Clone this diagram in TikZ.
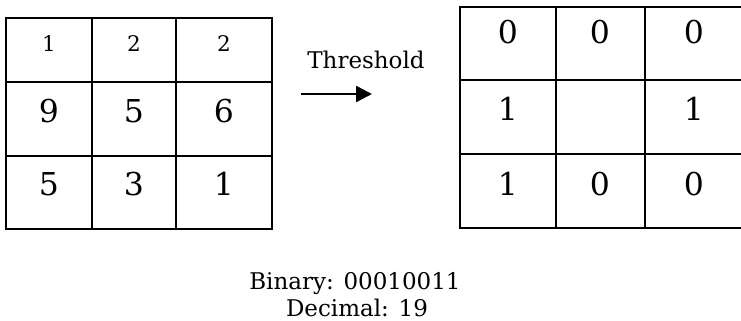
\documentclass[tikz,border=0pt]{standalone}
\usepackage{fontspec}
\setmainfont{DejaVu Serif}
\usetikzlibrary{arrows.meta,positioning}

\begin{document}
\begin{tikzpicture}[x=1pt,y=-1pt,>={Triangle[length=16pt,width=16pt]},
  gridline/.style={line width=2.6pt,line cap=rect},
  bigval/.style={anchor=base,font=\fontsize{31.5}{36}\selectfont},
  smallval/.style={anchor=base,font=\fontsize{21.5}{24}\selectfont},
  lbl/.style={anchor=base,font=\fontsize{23}{27}\selectfont}]
 \useasboundingbox (0,0) rectangle (741,321);
 % input window
 \draw[gridline] (6,18) rectangle (272,229);
 \foreach \x in {92,176} \draw[gridline] (\x,18) -- (\x,229);
 \foreach \y in {82,156} \draw[gridline] (6,\y) -- (272,\y);
 \foreach \r/\y/\st/\a/\b/\c in {1/52/smallval/1/2/2, 2/122/bigval/9/5/6, 3/195/bigval/5/3/1}{
   \node[\st] (in\r1) at (49,\y) {\a};
   \node[\st] (in\r2) at (134,\y) {\b};
   \node[\st] (in\r3) at (224,\y) {\c};
 }
 % thresholded window
 \draw[gridline] (460,7) rectangle (745,228);
 \foreach \x in {556,645} \draw[gridline] (\x,7) -- (\x,228);
 \foreach \y in {80,154} \draw[gridline] (460,\y) -- (745,\y);
 \foreach \r/\y/\a/\c in {1/44/0/0, 2/120/1/1, 3/195/1/0}{
   \node[bigval] (out\r1) at (508,\y) {\a};
   \node[bigval] (out\r3) at (694,\y) {\c};
 }
 \node[bigval] (out12) at (600,44) {0};
 \node[bigval] (out32) at (600,195) {0};
 % arrow
 \node[lbl] (thr) at (366,69) {Threshold};
 \coordinate (tail) at (301,94);
 \coordinate (head) at (372,94);
 \draw[->,line width=2.6pt] (tail) -- (head);
 % result
 \node[lbl] (bin) at (355,289) {Binary: 00010011};
 \node[lbl] (dec) at (357,316) {Decimal: 19};
\end{tikzpicture}
\end{document}
